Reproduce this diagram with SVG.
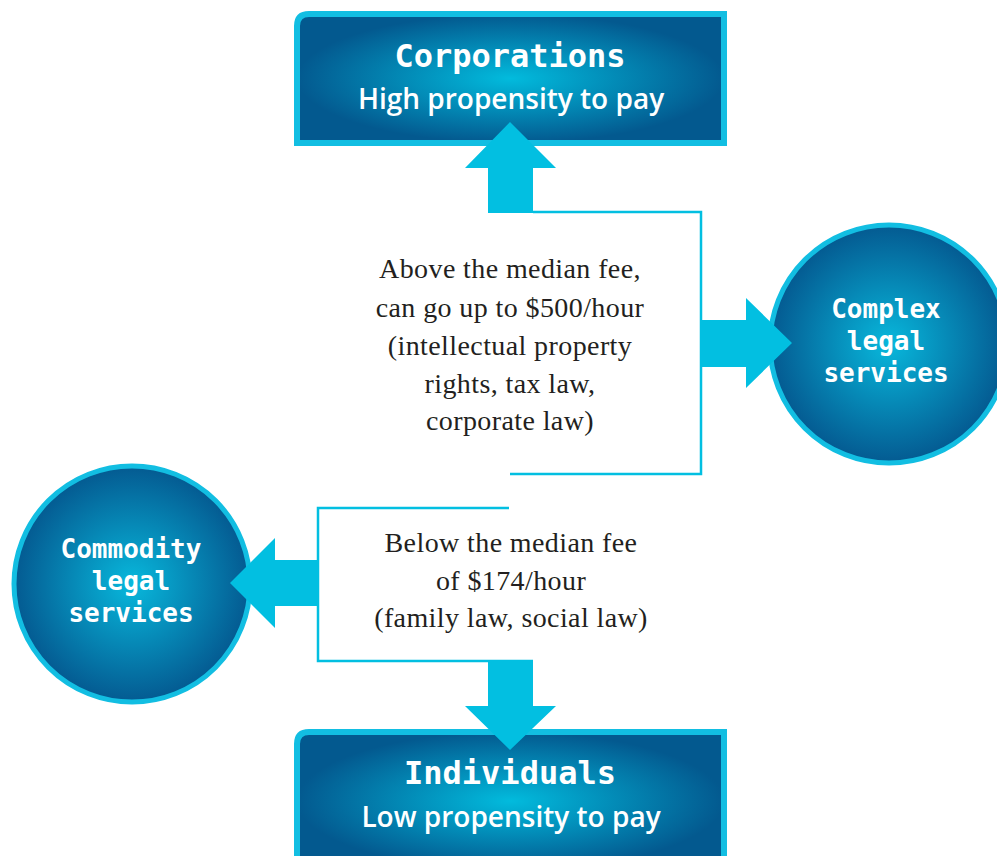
<svg xmlns="http://www.w3.org/2000/svg" width="997" height="856" viewBox="0 0 997 856">
<defs>
<radialGradient id="gBox" cx="0.5" cy="0.5" r="0.5">
<stop offset="0" stop-color="#02BBDD"/>
<stop offset="1" stop-color="#03598F"/>
</radialGradient>
<radialGradient id="gCirc" cx="0.5" cy="0.5" r="0.5">
<stop offset="0" stop-color="#08B8DC"/>
<stop offset="1" stop-color="#045A91"/>
</radialGradient>
<style>
.box{fill:url(#gBox);stroke:#12BEE2;stroke-width:6}
.circ{fill:url(#gCirc);stroke:#12BEE2;stroke-width:5}
.arrow{fill:#02BFE1}
.line{fill:none;stroke:#02BFE1;stroke-width:2.5}
.title{font-family:"DejaVu Sans Mono",monospace;font-weight:bold;fill:#fff;text-anchor:middle}
.sub{font-family:"Open Sans","Noto Sans",sans-serif;font-weight:600;fill:#fff;text-anchor:middle}
.body{font-family:"Liberation Serif",serif;font-size:28px;letter-spacing:0.4px;fill:#231F20;text-anchor:middle}
</style>
</defs>
<g id="corporations">
<path class="box" d="M297,143 V26 Q297,14 309,14 H724 V143 Z"/>
<text class="title" x="510" y="67" font-size="32">Corporations</text>
<text class="sub" x="511" y="109" font-size="28">High propensity to pay</text>
</g>
<g id="individuals">
<path class="box" d="M297,870 V744 Q297,732 309,732 H724 V870 Z"/>
<text class="title" x="510" y="784" font-size="32">Individuals</text>
<text class="sub" x="511" y="827" font-size="28">Low propensity to pay</text>
</g>
<g id="complex">
<circle class="circ" cx="889" cy="344" r="119"/>
<text class="title" font-size="26" x="886" y="318">Complex</text>
<text class="title" font-size="26" x="886" y="350">legal</text>
<text class="title" font-size="26" x="886" y="382">services</text>
</g>
<g id="commodity">
<circle class="circ" cx="132" cy="584" r="118"/>
<text class="title" font-size="26" x="131" y="558">Commodity</text>
<text class="title" font-size="26" x="131" y="590">legal</text>
<text class="title" font-size="26" x="131" y="622">services</text>
</g>
<g id="above-label">
<text class="body" x="510" y="278">Above the median fee,</text>
<text class="body" x="510" y="317">can go up to $500/hour</text>
<text class="body" x="510" y="355">(intellectual property</text>
<text class="body" x="510" y="393">rights, tax law,</text>
<text class="body" x="510" y="430">corporate law)</text>
</g>
<g id="below-label">
<text class="body" x="511" y="552">Below the median fee</text>
<text class="body" x="511" y="590">of $174/hour</text>
<text class="body" x="511" y="627">(family law, social law)</text>
</g>
<g id="connectors">
<polyline class="line" points="533,212 701,212 701,474 510,474"/>
<polyline class="line" points="509,508 318,508 318,661 533,661"/>
<polygon class="arrow" points="488,213 488,168 465,168 510,122 556,168 533,168 533,213"/>
<polygon class="arrow" points="701,320 746,320 746,298 792,343 746,388 746,367 701,367"/>
<polygon class="arrow" points="318,560 275,560 275,538 230,583 275,628 275,606 318,606"/>
<polygon class="arrow" points="488,660 533,660 533,706 556,706 510,750 465,706 488,706"/>
</g>
</svg>
